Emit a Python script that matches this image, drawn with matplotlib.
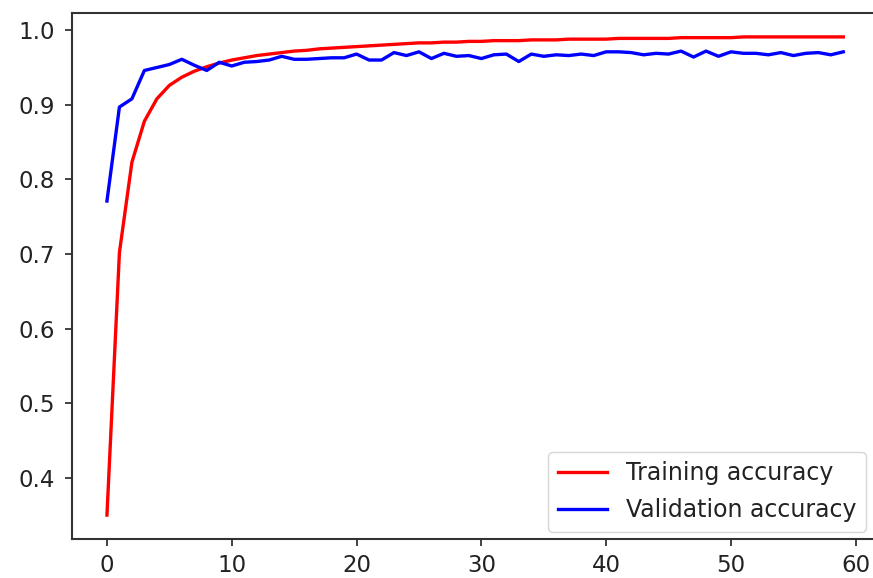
import matplotlib
matplotlib.use("Agg")
import matplotlib.pyplot as plt

epochs = list(range(60))
train_acc = [0.350, 0.702, 0.823, 0.878, 0.908, 0.926, 0.937, 0.945, 0.951, 0.956,
             0.960, 0.963, 0.966, 0.968, 0.970, 0.972, 0.973, 0.975, 0.976, 0.977,
             0.978, 0.979, 0.980, 0.981, 0.982, 0.983, 0.983, 0.984, 0.984, 0.985,
             0.985, 0.986, 0.986, 0.986, 0.987, 0.987, 0.987, 0.988, 0.988, 0.988,
             0.988, 0.989, 0.989, 0.989, 0.989, 0.989, 0.990, 0.990, 0.990, 0.990,
             0.990, 0.991, 0.991, 0.991, 0.991, 0.991, 0.991, 0.991, 0.991, 0.991]
val_acc = [0.771, 0.897, 0.908, 0.946, 0.950, 0.954, 0.961, 0.953, 0.946, 0.957,
           0.952, 0.957, 0.958, 0.960, 0.965, 0.961, 0.961, 0.962, 0.963, 0.963,
           0.968, 0.960, 0.960, 0.970, 0.966, 0.971, 0.962, 0.969, 0.965, 0.966,
           0.962, 0.967, 0.968, 0.958, 0.968, 0.965, 0.967, 0.966, 0.968, 0.966,
           0.971, 0.971, 0.970, 0.967, 0.969, 0.968, 0.972, 0.964, 0.972, 0.965,
           0.971, 0.969, 0.969, 0.967, 0.970, 0.966, 0.969, 0.970, 0.967, 0.971]
labels = ["Training accuracy", "Validation accuracy"]

W, H = 873, 578
fig = plt.figure(figsize=(W / 100, H / 100), dpi=100)
ax = fig.add_axes([72 / W, (H - 539) / H, (W - 72) / W, (539 - 13) / H])

ax.plot(epochs, train_acc, color="red", lw=2.4, label=labels[0])
ax.plot(epochs, val_acc, color="blue", lw=2.4, label=labels[1])
ax.set_xlim(-2.8, 61.38)

ax.tick_params(labelsize=16.5, length=5, width=1.2, colors="#222222")
ax.tick_params(axis="x", pad=5.5)
ax.tick_params(axis="y", pad=7)
for s in ax.spines.values():
    s.set_linewidth(1.5)
    s.set_color("#333333")
ax.spines["right"].set_visible(False)
leg = ax.legend(loc="lower right", fontsize=17, handlelength=2.1,
                labelspacing=0.55, borderaxespad=0.3)
for t in leg.get_texts():
    t.set_color("#222222")

fig.savefig("out.png", dpi=100)
